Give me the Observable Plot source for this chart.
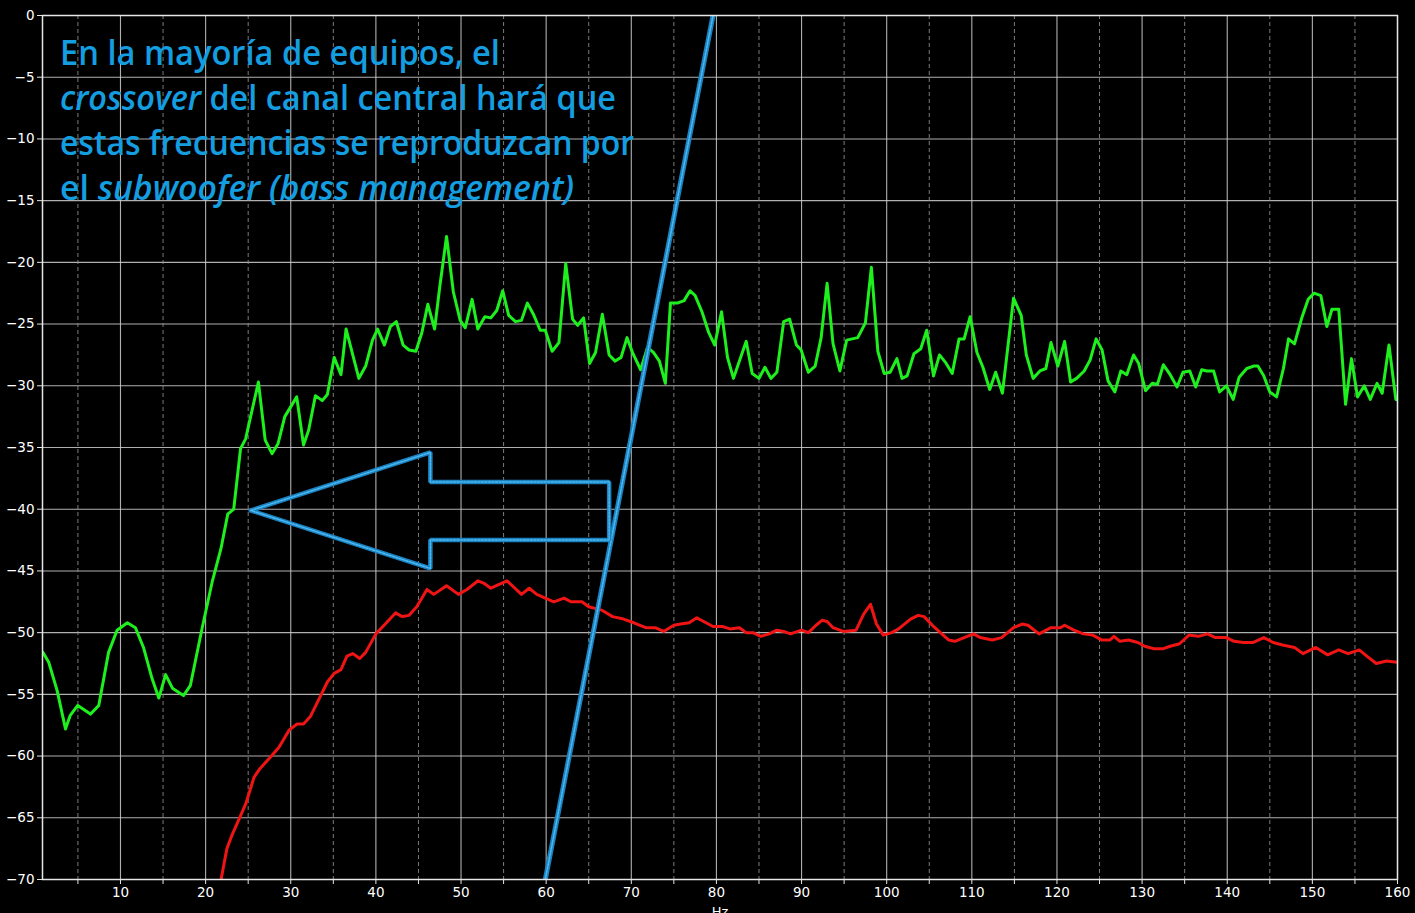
<!DOCTYPE html>
<html>
<head>
<meta charset="utf-8">
<script src="https://cdn.jsdelivr.net/npm/d3@7"></script>
<script src="https://cdn.jsdelivr.net/npm/@observablehq/plot@0.6"></script>
<style>
  html, body { margin: 0; padding: 0; background: #000; overflow: hidden; }
  #chart { position: absolute; left: 0; top: 0; }
</style>
</head>
<body>
<div id="chart"></div>
<script>
// ---- data ----
const greenHz = [0.9,1.57,2.56,3.54,4.1,4.98,6.47,7.45,8.6,9.6,10.8,11.76,12.7,13.7,14.5,15.3,16.1,17.4,18.2,19.6,20.8,21.8,22.6,23.3,24.1,24.7,26.2,27.0,27.8,28.5,29.3,30.7,31.5,32.1,32.9,33.7,34.3,35.1,35.9,36.5,38.0,38.8,39.6,40.2,41.0,41.7,42.4,43.2,43.9,44.7,45.4,46.1,46.9,47.5,48.3,49.1,49.9,50.5,51.3,51.97,52.8,53.5,54.2,54.9,55.6,56.4,57.1,57.8,58.5,59.3,59.9,60.7,61.5,62.3,63.1,63.7,64.4,65.1,65.8,66.6,67.4,68.1,68.8,69.5,70.2,71.1,71.9,72.6,73.3,74.0,74.6,75.4,76.2,76.9,77.5,78.3,79.1,79.8,80.6,81.3,82.0,82.7,83.5,84.2,85.0,85.7,86.4,87.1,87.9,88.6,89.4,89.95,90.8,91.6,92.3,93.0,93.7,94.5,95.3,96.6,97.5,98.2,98.96,99.7,100.4,101.2,101.8,102.4,103.2,104.0,104.7,105.5,106.2,106.9,107.7,108.5,109.1,109.8,110.6,111.3,112.1,112.8,113.6,114.9,115.8,116.4,117.2,118.0,118.7,119.3,120.1,120.9,121.6,122.3,123.2,123.9,124.6,125.3,126.0,126.8,127.5,128.2,129.0,129.6,130.4,131.2,131.8,132.5,133.3,134.1,134.8,135.6,136.3,137.0,137.6,138.4,139.1,139.9,140.7,141.4,142.3,143.1,143.6,144.3,145.0,145.8,146.6,147.2,147.9,148.8,149.5,150.2,151.0,151.7,152.3,153.1,153.9,154.6,155.3,156.1,156.8,157.6,158.2,159.0,159.8,160.2];
const greenDb = [-51.6,-52.4,-54.7,-57.8,-56.7,-55.9,-56.6,-55.9,-51.6,-49.8,-49.2,-49.6,-51.2,-53.7,-55.3,-53.4,-54.5,-55.1,-54.3,-49.6,-45.8,-43.2,-40.4,-40.0,-35.1,-34.3,-29.7,-34.4,-35.5,-34.7,-32.5,-30.9,-34.8,-33.6,-30.8,-31.2,-30.7,-27.7,-29.1,-25.4,-29.4,-28.4,-26.3,-25.4,-26.7,-25.2,-24.8,-26.7,-27.1,-27.2,-25.7,-23.4,-25.4,-22.0,-17.9,-22.4,-24.7,-25.3,-23.0,-25.4,-24.4,-24.5,-23.9,-22.3,-24.3,-24.8,-24.7,-23.3,-24.2,-25.5,-25.5,-27.2,-26.5,-20.1,-24.6,-25.1,-24.5,-28.2,-27.3,-24.2,-27.5,-28.0,-27.7,-26.1,-27.4,-28.7,-26.9,-27.3,-28.0,-29.8,-23.3,-23.3,-23.1,-22.3,-22.7,-24.0,-25.7,-26.7,-24.0,-27.7,-29.4,-28.0,-26.4,-29.0,-29.4,-28.5,-29.4,-28.9,-24.8,-24.6,-26.7,-27.1,-28.9,-28.4,-26.1,-21.7,-26.6,-28.8,-26.3,-26.1,-24.9,-20.4,-27.2,-29.0,-28.9,-27.8,-29.4,-29.2,-27.4,-27.0,-25.5,-29.2,-27.5,-28.1,-29.0,-26.2,-26.2,-24.4,-27.3,-28.5,-30.3,-28.9,-30.6,-22.9,-24.3,-27.5,-29.4,-28.8,-28.6,-26.5,-28.4,-26.4,-29.7,-29.4,-28.8,-27.9,-26.2,-27.1,-29.6,-30.5,-28.8,-29.1,-27.5,-28.2,-30.4,-29.8,-29.9,-28.3,-29.1,-30.1,-28.9,-28.8,-30.1,-28.7,-28.8,-28.8,-30.5,-30.0,-31.1,-29.3,-28.6,-28.4,-28.4,-29.2,-30.5,-30.9,-28.6,-26.2,-26.6,-24.4,-23.0,-22.5,-22.7,-25.2,-23.8,-23.8,-31.5,-27.8,-30.9,-30.0,-31.1,-29.8,-30.6,-26.7,-31.1,-31.2];

const redHz = [21.4,22.5,23.1,24.7,25.7,26.4,27.6,28.6,29.8,30.75,31.5,32.3,33.3,34.3,35.1,35.9,36.6,37.3,38.1,38.8,40.0,41.1,42.3,43.1,43.9,44.8,46.0,46.8,48.3,49.7,50.7,52.0,52.7,53.5,55.4,57.1,58.0,58.9,59.9,60.9,62.1,62.9,64.2,65.0,66.6,67.8,69.1,70.3,71.7,72.8,73.8,75.0,75.8,76.8,77.7,78.5,79.6,80.7,81.6,82.7,83.5,84.3,85.2,86.2,87.1,87.9,88.7,90.0,90.8,91.7,92.4,93.0,93.7,94.9,96.4,97.3,98.1,98.8,99.6,100.6,101.4,102.8,103.7,104.4,105.5,106.3,107.3,108.0,109.1,110.2,111.0,112.4,113.5,114.9,115.9,116.6,117.9,119.3,120.4,120.9,122.0,123.1,124.2,125.3,126.2,126.7,127.4,128.4,129.5,130.3,131.4,132.5,133.3,134.4,135.5,136.6,137.7,138.6,139.9,140.8,141.9,143.0,144.3,145.4,146.5,147.9,148.9,150.4,151.8,153.1,154.2,155.5,156.4,157.5,158.7,160.0];
const redDb = [-71.5,-67.5,-66.4,-63.9,-61.7,-61.0,-60.1,-59.3,-57.9,-57.4,-57.4,-56.8,-55.4,-54.0,-53.3,-53.0,-51.9,-51.7,-52.1,-51.6,-50.1,-49.3,-48.4,-48.7,-48.6,-47.9,-46.5,-46.9,-46.2,-46.9,-46.5,-45.8,-46.0,-46.4,-45.8,-46.9,-46.4,-46.9,-47.2,-47.5,-47.2,-47.5,-47.5,-47.9,-48.2,-48.7,-48.9,-49.2,-49.6,-49.6,-49.9,-49.4,-49.3,-49.2,-48.8,-49.1,-49.5,-49.5,-49.7,-49.6,-50.0,-50.0,-50.3,-50.1,-49.8,-49.9,-50.1,-49.8,-50.0,-49.4,-49.0,-49.1,-49.6,-49.9,-49.8,-48.5,-47.7,-49.3,-50.2,-50.0,-49.7,-48.9,-48.6,-48.7,-49.5,-50.0,-50.6,-50.7,-50.4,-50.1,-50.4,-50.6,-50.4,-49.6,-49.3,-49.4,-50.1,-49.6,-49.6,-49.4,-49.8,-50.1,-50.2,-50.6,-50.6,-50.3,-50.7,-50.6,-50.8,-51.1,-51.3,-51.3,-51.1,-50.9,-50.2,-50.3,-50.1,-50.4,-50.4,-50.7,-50.8,-50.8,-50.4,-50.8,-51.0,-51.2,-51.7,-51.2,-51.8,-51.4,-51.7,-51.4,-51.9,-52.5,-52.3,-52.4];

// annotation: crossover slope and arrow outline (Hz, dB)
const crossoverHz = [59.9, 79.6];
const crossoverDb = [-70, 0];
const arrowHz = [25.3, 46.4, 46.4, 67.4, 67.4, 46.4, 46.4, 25.3];
const arrowDb = [-40.1, -35.4, -37.8, -37.8, -42.5, -42.5, -44.8, -40.1];

const xMajorTicks = [10,20,30,40,50,60,70,80,90,100,110,120,130,140,150,160];
const xMinorTicks = [5,15,25,35,45,55,65,75,85,95,105,115,125,135,145,155];
const yTicks = [0,-5,-10,-15,-20,-25,-30,-35,-40,-45,-50,-55,-60,-65,-70];
const xLabel = "Hz";

const noteLines = [
  [{t: "En la mayoría de equipos, el", i: false}],
  [{t: "crossover", i: true}, {t: " del canal central hará que", i: false}],
  [{t: "estas frecuencias se reproduzcan por", i: false}],
  [{t: "el ", i: false}, {t: "subwoofer (bass management)", i: true}]
];

// ---- build ----
const zip = (xs, ys) => xs.map((x, k) => ({hz: x, db: ys[k]}));
const green = zip(greenHz, greenDb);
const red = zip(redHz, redDb);
const crossover = zip(crossoverHz, crossoverDb);
const arrow = zip(arrowHz, arrowDb);
const fmt = d => d < 0 ? "\u2212" + Math.abs(d) : String(d);

const W = 1415, H = 925;
const plot = Plot.plot({
  width: W,
  height: H,
  marginLeft: 42,
  marginRight: 18,
  marginTop: 15,
  marginBottom: 46,
  style: {background: "#000", color: "#fff", fontFamily: "'DejaVu Sans', sans-serif", fontSize: "13.5px"},
  x: {domain: [0.84, 160], label: null},
  y: {domain: [-70, 0], label: null},
  marks: [
    Plot.gridY(yTicks, {stroke: "#cfcfcf", strokeOpacity: 0.85, strokeWidth: 1.1}),
    Plot.gridX(xMajorTicks, {stroke: "#cfcfcf", strokeOpacity: 0.85, strokeWidth: 1.1}),
    Plot.gridX(xMinorTicks, {stroke: "#9a9a9a", strokeOpacity: 0.8, strokeWidth: 1, strokeDasharray: "4,3"}),
    Plot.line(green, {x: "hz", y: "db", stroke: "#1ef01e", strokeWidth: 3, clip: true}),
    Plot.line(red, {x: "hz", y: "db", stroke: "#f01414", strokeWidth: 3, clip: true}),
    Plot.line(crossover, {x: "hz", y: "db", stroke: "#1b82c2", strokeWidth: 5, clip: true}),
    Plot.line(crossover, {x: "hz", y: "db", stroke: "#4cb8ee", strokeWidth: 1.6, strokeDasharray: "2,1.5", clip: true}),
    Plot.line(arrow, {x: "hz", y: "db", stroke: "#1b82c2", strokeWidth: 4.5, strokeLinejoin: "miter"}),
    Plot.line(arrow, {x: "hz", y: "db", stroke: "#4cb8ee", strokeWidth: 1.5, strokeDasharray: "2,1.5"}),
    Plot.frame({stroke: "#e6e6e6", strokeWidth: 1.5}),
    Plot.axisY(yTicks, {tickFormat: fmt, tickSize: 5, tickPadding: 3, stroke: "#e6e6e6", fill: "#fff", label: null}),
    Plot.axisX(xMajorTicks, {tickFormat: fmt, tickSize: 5, tickPadding: 3, stroke: "#e6e6e6", fill: "#fff", label: null}),
    Plot.axisX(xMinorTicks, {tickFormat: () => "", tickSize: 5, stroke: "#e6e6e6", label: null}),
    Plot.text([xLabel], {frameAnchor: "bottom", dy: 36, fill: "#fff", fontSize: 13})
  ]
});

document.getElementById("chart").appendChild(plot);

// annotation text (mixed upright/italic), placed with the plot's own scales
const sx = plot.scale("x"), sy = plot.scale("y");
const x0 = sx.apply(2.95);
const baseline0 = sy.apply(-4.05);
const lineGap = 45;
const lineWidths = [440, 556, 574, 514];
const svg = d3.select(plot);
noteLines.forEach((segs, li) => {
  const t = svg.append("text")
    .attr("x", x0)
    .attr("y", baseline0 + li * lineGap)
    .attr("text-anchor", "start")
    .attr("fill", "#149ee0")
    .attr("font-family", "'Open Sans', 'Noto Sans', sans-serif")
    .attr("font-weight", 600)
    .attr("font-size", 34)
    .attr("textLength", lineWidths[li])
    .attr("lengthAdjust", "spacingAndGlyphs")
    .style("white-space", "pre");
  segs.forEach(s => {
    t.append("tspan").attr("font-style", s.i ? "italic" : "normal").text(s.t);
  });
});
</script>
</body>
</html>
